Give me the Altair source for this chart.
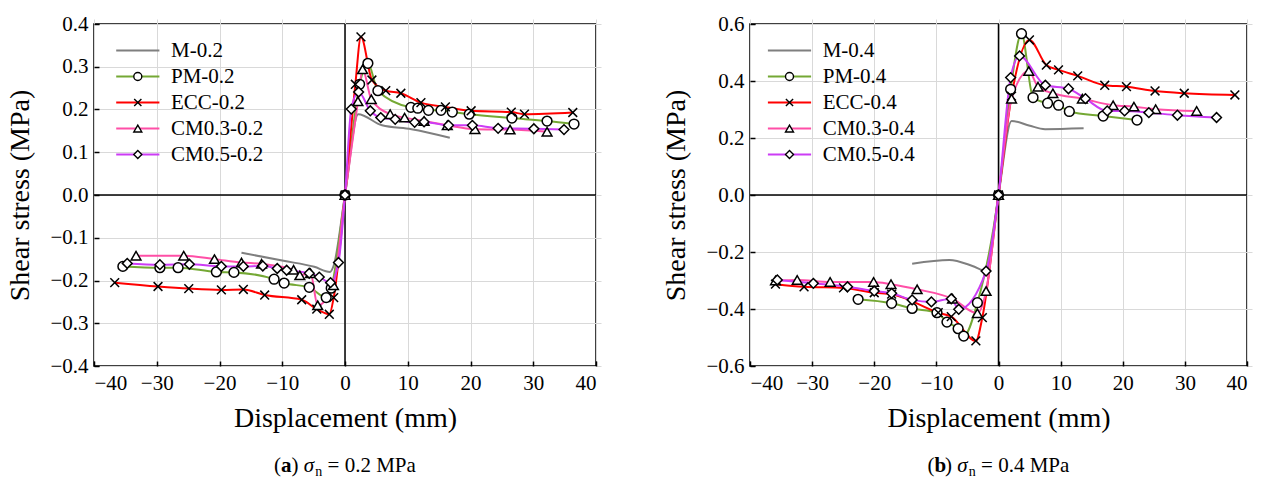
import altair as alt
import pandas as pd

FONT = "Liberation Serif"

# ---------------- data ----------------
names_a = ["M-0.2", "PM-0.2", "ECC-0.2", "CM0.3-0.2", "CM0.5-0.2"]
names_b = ["M-0.4", "PM-0.4", "ECC-0.4", "CM0.3-0.4", "CM0.5-0.4"]

# panel (a)  sigma_n = 0.2 MPa
m02_x = [-16.5, -9.8, -4.9, -2.4, -1.8, 0, 2.1, 5.9, 10.6, 16.7]
m02_y = [-0.135, -0.154, -0.168, -0.180, -0.165, 0, 0.189, 0.163, 0.154, 0.134]

pm02_x = [-35.4, -29.5, -26.6, -20.5, -17.7, -11.3, -9.7, -5.7, -3.0, -2.2, 0,
          2.33, 3.65, 5.24, 10.5, 11.6, 13.3, 15.3, 17.1, 19.8, 26.6, 32.2, 36.5]
pm02_y = [-0.167, -0.170, -0.170, -0.180, -0.181, -0.197, -0.206, -0.216, -0.240, -0.218, 0,
          0.259, 0.308, 0.244, 0.205, 0.203, 0.198, 0.198, 0.194, 0.189, 0.180, 0.173, 0.166]

ecc02_x = [-36.7, -29.8, -24.9, -19.7, -16.2, -12.8, -6.9, -4.5, -2.5, -1.8, 0,
           1.65, 2.54, 4.29, 6.5, 8.9, 12.1, 16.0, 20.1, 26.5, 28.6, 36.3]
ecc02_y = [-0.205, -0.214, -0.219, -0.222, -0.221, -0.234, -0.245, -0.267, -0.279, -0.240, 0,
           0.259, 0.370, 0.269, 0.244, 0.238, 0.216, 0.206, 0.197, 0.194, 0.189, 0.193]

cm3_02_x = [-33.3, -25.7, -20.8, -16.5, -13.3, -8.2, -7.2, -5.5, -4.35, -1.84, 0,
            2.06, 2.8, 4.19, 7.2, 9.5, 12.6, 16.3, 20.7, 26.3, 32.2]
cm3_02_y = [-0.142, -0.142, -0.150, -0.158, -0.161, -0.175, -0.188, -0.183, -0.258, -0.211, 0,
            0.219, 0.294, 0.224, 0.189, 0.181, 0.173, 0.163, 0.154, 0.153, 0.148]

cm5_02_x = [-34.7, -29.5, -24.8, -19.7, -16.2, -13.1, -10.8, -9.3, -5.7, -4.1, -2.3, -1.04, 0,
            1.0, 2.17, 4.03, 5.7, 8.0, 11.1, 12.6, 16.5, 20.3, 24.4, 30.1, 34.9]
cm5_02_y = [-0.160, -0.163, -0.162, -0.167, -0.167, -0.166, -0.172, -0.176, -0.183, -0.192, -0.205, -0.158, 0,
            0.201, 0.241, 0.197, 0.181, 0.177, 0.170, 0.171, 0.163, 0.163, 0.156, 0.155, 0.153]

# panel (b)  sigma_n = 0.4 MPa
m04_x = [-13.9, -7.9, -4.2, -2.0, 0, 2.1, 4.9, 7.5, 13.7]
m04_y = [-0.241, -0.228, -0.249, -0.267, 0, 0.260, 0.244, 0.231, 0.234]

pm04_x = [-22.6, -17.2, -13.9, -9.9, -8.3, -6.5, -5.6, -3.4, 0,
          1.95, 3.7, 5.56, 7.9, 9.66, 11.4, 16.85, 22.3]
pm04_y = [-0.366, -0.380, -0.398, -0.413, -0.446, -0.469, -0.495, -0.378, 0,
          0.371, 0.566, 0.342, 0.322, 0.315, 0.293, 0.277, 0.263]

ecc04_x = [-35.9, -31.3, -24.95, -20.0, -17.2, -9.7, -7.6, -3.64, -2.6, 0,
           2.1, 4.98, 7.7, 9.66, 12.75, 17.1, 20.6, 25.2, 29.9, 38.05]
ecc04_y = [-0.313, -0.322, -0.326, -0.343, -0.348, -0.413, -0.427, -0.512, -0.430, 0,
           0.347, 0.544, 0.456, 0.439, 0.418, 0.385, 0.380, 0.365, 0.357, 0.351]

cm3_04_x = [-35.9, -32.4, -27.1, -20.1, -17.3, -13.1, -7.4, -3.4, -2.0, 0,
            2.1, 4.87, 6.36, 8.75, 13.5, 18.45, 21.8, 25.3, 31.9]
cm3_04_y = [-0.300, -0.298, -0.305, -0.305, -0.313, -0.331, -0.364, -0.415, -0.337, 0,
            0.338, 0.435, 0.380, 0.357, 0.338, 0.315, 0.310, 0.301, 0.295]

cm5_04_x = [-35.6, -29.8, -24.3, -20.0, -17.2, -13.9, -10.8, -7.6, -6.4, -2.0, 0,
            1.95, 3.39, 7.54, 11.26, 14.0, 17.5, 20.3, 24.2, 28.8, 35.1]
cm5_04_y = [-0.298, -0.310, -0.322, -0.337, -0.345, -0.368, -0.375, -0.364, -0.401, -0.267, 0,
            0.412, 0.488, 0.385, 0.373, 0.338, 0.295, 0.295, 0.289, 0.280, 0.272]

x_ticks = [-40, -30, -20, -10, 0, 10, 20, 30, 40]
y_ticks_a = [-0.4, -0.3, -0.2, -0.1, 0.0, 0.1, 0.2, 0.3, 0.4]
y_ticks_b = [-0.6, -0.4, -0.2, 0.0, 0.2, 0.4, 0.6]

colors = ["#7f7f7f", "#74a834", "#ff0000", "#ff4fa7", "#cc3cf5"]
marker_strokes = ["black", "black", "black", "black", "black"]
XMARK = "M-0.9,-0.9L0.9,0.9M-0.9,0.9L0.9,-0.9"
shapes = ["M0,0", "circle", XMARK, "triangle-up", "diamond"]
LEGEND_LINE = "M-5.4,0L5.4,0"


def make_df(names, xs_list, ys_list):
    rows = []
    for name, xs, ys in zip(names, xs_list, ys_list):
        for xv, yv in zip(xs, ys):
            rows.append({"series": name, "series_m": "m " + name, "x": xv, "y": yv})
    return pd.DataFrame(rows)


def panel(names, xs_list, ys_list, ydom, yticks, width, legx, legy, cap_letter, cap_value):
    df = make_df(names, xs_list, ys_list)
    mnames = ["m " + n for n in names]
    xscale = alt.Scale(domain=[-40, 40], nice=False, zero=False)
    yscale = alt.Scale(domain=ydom, nice=False, zero=False)
    xaxis = alt.Axis(values=x_ticks, format="d", title="Displacement (mm)",
                     labelFont=FONT, titleFont=FONT)
    yaxis = alt.Axis(values=yticks, format=".1f", title="Shear stress (MPa)",
                     labelFont=FONT, titleFont=FONT)

    zero_df = pd.DataFrame({"x": [0], "y": [0]})
    vrule = alt.Chart(zero_df).mark_rule(color="black", strokeWidth=1.5).encode(
        x=alt.X("x:Q", scale=xscale, axis=xaxis))
    hrule = alt.Chart(zero_df).mark_rule(color="black", strokeWidth=1.5).encode(
        y=alt.Y("y:Q", scale=yscale, axis=yaxis))

    lines = alt.Chart(df).mark_line(strokeWidth=2, interpolate="monotone").encode(
        x=alt.X("x:Q", scale=xscale, axis=xaxis),
        y=alt.Y("y:Q", scale=yscale, axis=yaxis),
        color=alt.Color("series:N", scale=alt.Scale(domain=names, range=colors),
                        legend=alt.Legend(orient="none", legendX=legx, legendY=legy, title=None,
                                          symbolType=LEGEND_LINE, symbolSize=64,
                                          symbolStrokeWidth=2, labelOffset=22.7,
                                          labelFont=FONT, labelFontSize=21, labelColor="black",
                                          rowPadding=4, padding=0)),
    )
    mleg = alt.Legend(orient="none", legendX=legx, legendY=legy, title=None,
                      symbolSize=64, symbolStrokeWidth=1.4, symbolFillColor="white",
                      symbolOpacity=1, labelOffset=22.7, labelFont=FONT, labelFontSize=21,
                      labelExpr="' '", rowPadding=4, padding=0)
    points = alt.Chart(df).mark_point(filled=False, fill="white",
                                      strokeWidth=1.5, size=95, opacity=1).encode(
        x=alt.X("x:Q", scale=xscale, axis=xaxis),
        y=alt.Y("y:Q", scale=yscale, axis=yaxis),
        shape=alt.Shape("series_m:N", scale=alt.Scale(domain=mnames, range=shapes), legend=mleg),
        stroke=alt.Stroke("series_m:N", scale=alt.Scale(domain=mnames, range=marker_strokes),
                          legend=mleg),
    )

    one = pd.DataFrame({"a": [0]})
    c = width / 2
    cy = 448
    cap = []
    pieces = [
        ("(", "normal", "normal", 21, -70.9, 0),
        (cap_letter, "bold", "normal", 21, -63.9, 0),
        (")", "normal", "normal", 21, -53.4, 0),
        ("σ", "normal", "italic", 21, -41.2, 0),
        ("n", "normal", "normal", 14, -29.7, 4),
        ("= " + cap_value + " MPa", "normal", "normal", 21, -17.4, 0),
    ]
    for txt, fw, fs, size, off, dy in pieces:
        cap.append(alt.Chart(one).mark_text(text=txt, font=FONT, fontSize=size, fontWeight=fw,
                                            fontStyle=fs, align="left", baseline="alphabetic",
                                            color="black", dy=dy).encode(
            x=alt.value(c + off), y=alt.value(cy)))

    return alt.layer(vrule, hrule, lines, points, *cap).properties(width=width, height=342)


left = panel(names_a,
             [m02_x, pm02_x, ecc02_x, cm3_02_x, cm5_02_x],
             [m02_y, pm02_y, ecc02_y, cm3_02_y, cm5_02_y],
             [-0.4, 0.4], y_ticks_a, 502, 33.3, 16, "a", "0.2")
right = panel(names_b,
              [m04_x, pm04_x, ecc04_x, cm3_04_x, cm5_04_x],
              [m04_y, pm04_y, ecc04_y, cm3_04_y, cm5_04_y],
              [-0.6, 0.6], y_ticks_b, 497, 29, 16, "b", "0.4")

chart = alt.hconcat(left, right, spacing=64).resolve_scale(
    color="independent", shape="independent", stroke="independent",
    x="independent", y="independent"
).properties(
    padding={"left": 6, "top": 12, "right": 5, "bottom": 5}
).configure(
    font=FONT
).configure_view(
    stroke="black", strokeWidth=1.5
).configure_axis(
    labelFont=FONT, labelFontSize=21, labelColor="black", labelPadding=6,
    titleFont=FONT, titleFontSize=28, titleFontWeight="normal", titleColor="black",
    grid=True, gridColor="#d9d9d9", gridWidth=1, domain=False,
    ticks=True, tickSize=5, tickColor="black", tickWidth=1.5, offset=-5,
).configure_axisY(titlePadding=15).configure_axisX(titlePadding=11)

chart.save("out.html", embed_options={"renderer": "svg", "actions": False})
